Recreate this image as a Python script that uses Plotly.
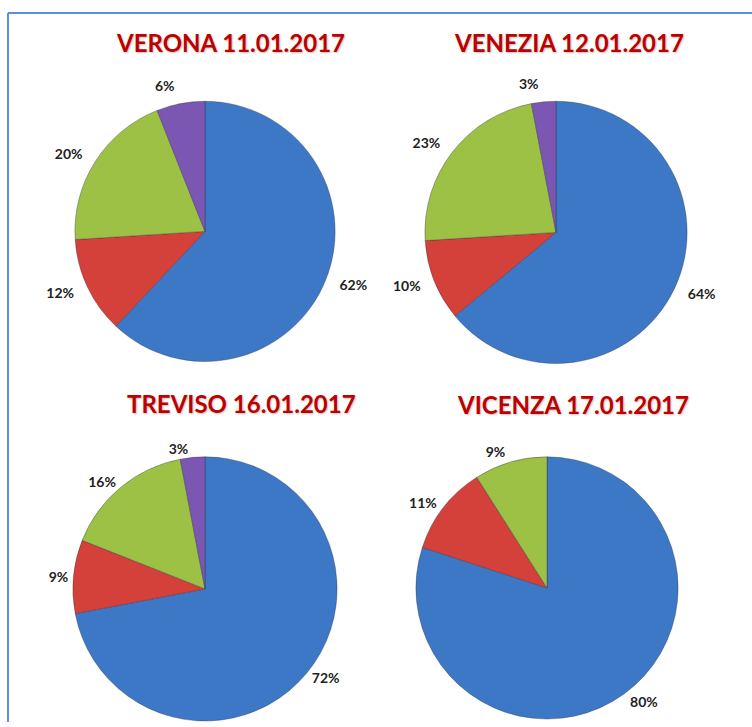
import plotly.graph_objects as go

# ---- data ----
titles = ["VERONA 11.01.2017", "VENEZIA 12.01.2017", "TREVISO 16.01.2017", "VICENZA 17.01.2017"]
categories = ["A", "B", "C", "D"]
verona = [62, 12, 20, 6]
venezia = [64, 10, 23, 3]
treviso = [72, 9, 16, 3]
vicenza = [80, 11, 9]

series = [verona, venezia, treviso, vicenza]
colors = ["#3D78C6", "#D4413A", "#9CC144", "#7B57B3"]

W, H = 752, 727
# pie centres and radii in pixels (cx, cy, r)
pies = [(205, 233, 131), (556, 234, 132), (205, 593, 133), (547, 592, 132)]
label_gap = 10  # extra distance of data labels from the pie edge
title_pos = [(230, 43), (569, 43), (242, 406), (573, 407)]


def domain(cx, cy, r):
    return dict(x=[(cx - r) / W, (cx + r) / W], y=[1 - (cy + r) / H, 1 - (cy - r) / H])


fig = go.Figure()
for vals, (cx, cy, r) in zip(series, pies):
    cats = categories[:len(vals)]
    # visible pie
    fig.add_trace(go.Pie(
        labels=cats, values=vals, sort=False, direction="clockwise", rotation=0,
        textinfo="none",
        marker=dict(colors=colors[:len(vals)],
                    line=dict(color="rgba(40,40,60,0.35)", width=1)),
        domain=domain(cx, cy, r),
        showlegend=False, hoverinfo="label+percent",
    ))
    # transparent, slightly larger pie carrying the outside data labels
    rl = min(r + label_gap, cx, W - cx, cy, H - cy)
    fig.add_trace(go.Pie(
        labels=cats, values=vals, sort=False, direction="clockwise", rotation=0,
        text=[f"{v}%" for v in vals],
        texttemplate="%{text}", textinfo="text", textposition="outside",
        marker=dict(colors=["rgba(0,0,0,0)"] * len(vals), line=dict(width=0)),
        textfont=dict(family="Lato", size=14, color="#222222", weight="bold"),
        domain=domain(cx, cy, rl),
        showlegend=False, hoverinfo="skip",
    ))

annotations = []
for txt, (x, y) in zip(titles, title_pos):
    annotations.append(dict(
        text=txt, x=x / W, y=1 - y / H, xref="paper", yref="paper",
        xanchor="center", yanchor="middle", showarrow=False,
        font=dict(family="Lato", size=24, color="#BE0000", weight="bold",
                  shadow="1px 1px 2px rgba(0,0,0,0.25)"),
    ))

shapes = [
    dict(type="line", xref="paper", yref="paper", x0=8 / W, x1=1, y0=1 - 13 / H, y1=1 - 13 / H,
         line=dict(color="#5B8ED6", width=2)),
    dict(type="line", xref="paper", yref="paper", x0=8 / W, x1=8 / W, y0=0, y1=1 - 13 / H,
         line=dict(color="#5B8ED6", width=2)),
]

fig.update_layout(
    width=W, height=H,
    margin=dict(l=0, r=0, t=0, b=0),
    paper_bgcolor="white",
    plot_bgcolor="white",
    annotations=annotations,
    shapes=shapes,
)

fig.write_html(
    "out.html",
    config={"displayModeBar": False},
    post_script="document.body.style.margin='0';document.body.style.overflow='hidden';",
)
